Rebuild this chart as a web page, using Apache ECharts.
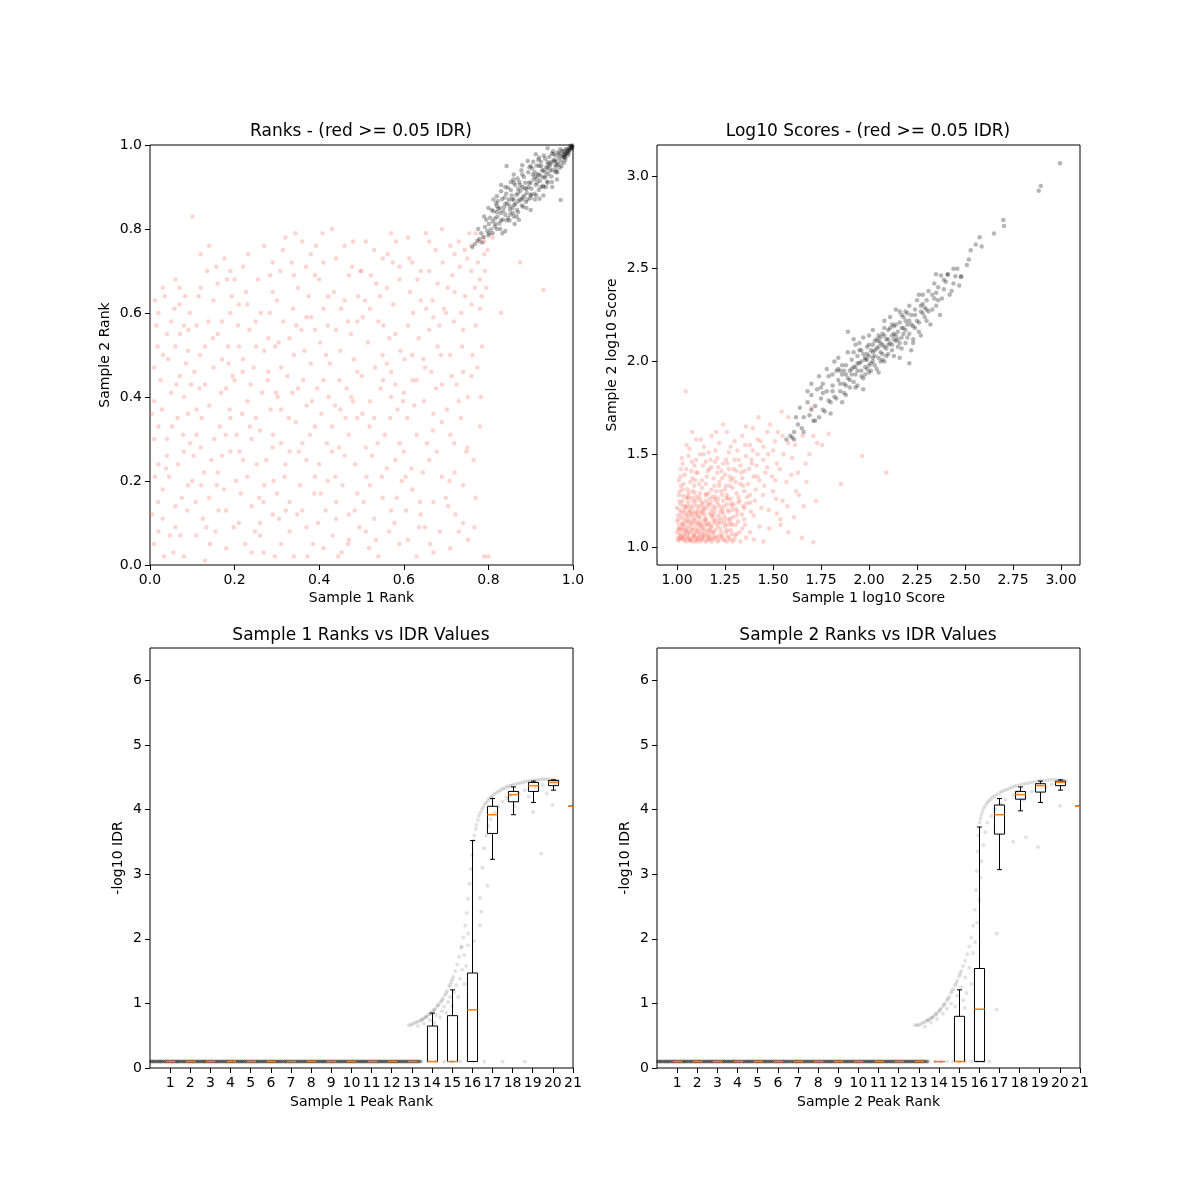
<!DOCTYPE html>
<html><head><meta charset="utf-8">
<script src="https://cdn.jsdelivr.net/npm/echarts@6/dist/echarts.min.js"></script>
<style>html,body{margin:0;padding:0;background:#fff}#c{width:1200px;height:1200px}</style>
</head><body><div id="c"></div>
<script>
// ---------- DATA ----------
const titles = ['Ranks - (red >= 0.05 IDR)', 'Log10 Scores - (red >= 0.05 IDR)', 'Sample 1 Ranks vs IDR Values', 'Sample 2 Ranks vs IDR Values'];
const xNames = ['Sample 1 Rank', 'Sample 1 log10 Score', 'Sample 1 Peak Rank', 'Sample 2 Peak Rank'];
const yNames = ['Sample 2 Rank', 'Sample 2 log10 Score', '-log10 IDR', '-log10 IDR'];

const rankTicks = [0.0, 0.2, 0.4, 0.6, 0.8, 1.0];
const scoreXTicks = [1.00, 1.25, 1.50, 1.75, 2.00, 2.25, 2.50, 2.75, 3.00];
const scoreYTicks = [1.0, 1.5, 2.0, 2.5, 3.0];
const peakTicks = [1, 2, 3, 4, 5, 6, 7, 8, 9, 10, 11, 12, 13, 14, 15, 16, 17, 18, 19, 20, 21];
const idrTicks = [0, 1, 2, 3, 4, 5, 6];

// Ranks: IDR >= 0.05 (red)
const rankRed = [
[0.01,0.05],[0.03,0.18],[0.06,0.09],[0.08,0.27],[0.02,0.33],[0.05,0.41],[0.09,0.36],[0.01,0.47],[0.04,0.55],[0.07,0.62],[0.03,0.66],[0.09,0.51],[0.02,0.24],[0.06,0.14],[0.08,0.02],[0.04,0.30],[0.01,0.39],[0.07,0.45],[0.05,0.58],[0.09,0.19],[0.03,0.11],[0.06,0.68],[0.02,0.60],[0.08,0.57],
[0.11,0.07],[0.14,0.16],[0.18,0.04],[0.12,0.28],[0.16,0.22],[0.19,0.35],[0.13,0.43],[0.17,0.49],[0.11,0.57],[0.15,0.63],[0.19,0.70],[0.12,0.74],[0.10,0.83],[0.18,0.13],[0.14,0.38],[0.16,0.55],[0.19,0.60],[0.11,0.31],[0.17,0.26],[0.13,0.01],[0.15,0.47],[0.18,0.42],[0.12,0.66],[0.10,0.20],
[0.21,0.10],[0.24,0.03],[0.27,0.19],[0.22,0.25],[0.26,0.32],[0.29,0.28],[0.23,0.39],[0.28,0.46],[0.21,0.52],[0.25,0.58],[0.29,0.65],[0.22,0.71],[0.27,0.76],[0.24,0.14],[0.20,0.44],[0.26,0.07],[0.28,0.54],[0.23,0.62],[0.25,0.35],[0.20,0.68],[0.29,0.12],[0.22,0.49],
[0.31,0.05],[0.34,0.02],[0.33,0.15],[0.37,0.09],[0.32,0.24],[0.36,0.29],[0.39,0.21],[0.31,0.37],[0.35,0.42],[0.38,0.48],[0.33,0.54],[0.37,0.59],[0.30,0.63],[0.34,0.69],[0.38,0.74],[0.32,0.78],[0.36,0.13],[0.39,0.33],[0.31,0.47],[0.35,0.66],[0.37,0.38],[0.33,0.27],[0.39,0.56],[0.30,0.17],
[0.41,0.04],[0.44,0.11],[0.47,0.06],[0.42,0.20],[0.46,0.26],[0.49,0.17],[0.43,0.33],[0.48,0.39],[0.41,0.44],[0.45,0.51],[0.49,0.46],[0.42,0.57],[0.46,0.63],[0.40,0.68],[0.44,0.73],[0.48,0.77],[0.43,0.80],[0.47,0.31],[0.40,0.24],[0.45,0.37],[0.49,0.58],[0.41,0.61],[0.47,0.69],[0.44,0.15],
[0.51,0.08],[0.54,0.02],[0.57,0.13],[0.52,0.19],[0.56,0.23],[0.59,0.29],[0.53,0.35],[0.57,0.40],[0.50,0.45],[0.55,0.50],[0.58,0.55],[0.52,0.61],[0.56,0.66],[0.59,0.71],[0.53,0.75],[0.57,0.79],[0.51,0.28],[0.55,0.16],[0.58,0.43],[0.54,0.58],[0.50,0.70],[0.59,0.05],[0.52,0.39],[0.56,0.48],
[0.61,0.06],[0.64,0.12],[0.67,0.03],[0.62,0.18],[0.66,0.25],[0.69,0.21],[0.63,0.31],[0.67,0.36],[0.60,0.41],[0.65,0.47],[0.68,0.52],[0.61,0.57],[0.64,0.63],[0.68,0.67],[0.62,0.72],[0.66,0.77],[0.69,0.80],[0.63,0.44],[0.60,0.27],[0.67,0.59],[0.65,0.09],[0.69,0.34],[0.62,0.50],[0.66,0.70],
[0.71,0.04],[0.74,0.10],[0.77,0.16],[0.72,0.22],[0.75,0.28],[0.78,0.33],[0.73,0.39],[0.76,0.45],[0.71,0.50],[0.74,0.56],[0.78,0.61],[0.72,0.65],[0.76,0.70],[0.79,0.74],[0.73,0.77],[0.77,0.79],[0.70,0.60],[0.75,0.73],[0.79,0.02],[0.71,0.31],[0.74,0.46],[0.78,0.68],[0.72,0.74],[0.76,0.76],
[0.83,0.60],[0.875,0.72],[0.93,0.655],[0.80,0.02],[0.81,0.78],[0.79,0.77],
[0.005,0.12],[0.025,0.44],[0.045,0.21],[0.065,0.35],[0.085,0.48],[0.015,0.57],[0.035,0.64],[0.055,0.03],[0.075,0.16],[0.095,0.29],[0.02,0.08],[0.04,0.26],[0.06,0.52],[0.08,0.40],[0.01,0.30],[0.07,0.66],
[0.105,0.46],[0.125,0.11],[0.145,0.25],[0.165,0.33],[0.185,0.52],[0.115,0.64],[0.135,0.70],[0.155,0.08],[0.175,0.18],[0.195,0.45],[0.11,0.37],[0.17,0.58],[0.13,0.52],[0.19,0.27],[0.14,0.76],[0.16,0.67],
[0.205,0.31],[0.225,0.05],[0.245,0.47],[0.265,0.41],[0.285,0.37],[0.215,0.17],[0.235,0.56],[0.255,0.68],[0.275,0.25],[0.295,0.02],[0.21,0.62],[0.27,0.51],[0.23,0.21],[0.29,0.72],[0.26,0.10],[0.24,0.30],
[0.305,0.11],[0.325,0.45],[0.345,0.34],[0.365,0.51],[0.385,0.05],[0.315,0.58],[0.335,0.72],[0.355,0.19],[0.375,0.64],[0.395,0.42],[0.31,0.29],[0.37,0.25],[0.33,0.08],[0.39,0.69],[0.34,0.50],[0.36,0.77],
[0.405,0.36],[0.425,0.48],[0.445,0.02],[0.465,0.42],[0.485,0.24],[0.415,0.13],[0.435,0.65],[0.455,0.19],[0.475,0.55],[0.495,0.09],[0.41,0.72],[0.47,0.12],[0.43,0.27],[0.49,0.35],[0.44,0.56],[0.46,0.76],
[0.505,0.15],[0.525,0.26],[0.545,0.42],[0.565,0.08],[0.585,0.37],[0.515,0.53],[0.535,0.67],[0.555,0.31],[0.575,0.62],[0.595,0.20],[0.51,0.77],[0.57,0.46],[0.53,0.11],[0.59,0.68],[0.55,0.73],[0.58,0.25],
[0.605,0.13],[0.625,0.38],[0.645,0.22],[0.665,0.46],[0.685,0.08],[0.615,0.65],[0.635,0.54],[0.655,0.29],[0.675,0.75],[0.695,0.61],[0.61,0.78],[0.67,0.15],[0.63,0.02],[0.69,0.43],[0.64,0.70],[0.66,0.56],
[0.705,0.14],[0.725,0.43],[0.745,0.64],[0.765,0.25],[0.785,0.52],[0.715,0.69],[0.735,0.35],[0.755,0.79],[0.775,0.72],[0.795,0.66],[0.71,0.76],[0.77,0.57],[0.73,0.08],[0.79,0.78],[0.74,0.19],[0.76,0.62],
[0.012,0.21],[0.028,0.37],[0.043,0.49],[0.058,0.61],[0.072,0.07],[0.088,0.13],[0.097,0.43],[0.018,0.52],[0.052,0.33],[0.083,0.64],[0.033,0.02],[0.066,0.24],[0.091,0.56],
[0.108,0.15],[0.122,0.35],[0.138,0.58],[0.152,0.30],[0.168,0.41],[0.182,0.68],[0.198,0.09],[0.118,0.50],[0.142,0.05],[0.176,0.73],[0.158,0.19],[0.128,0.22],[0.188,0.37],
[0.208,0.57],[0.218,0.36],[0.232,0.74],[0.248,0.08],[0.262,0.60],[0.278,0.44],[0.292,0.20],[0.212,0.27],[0.238,0.43],[0.268,0.15],[0.284,0.69],[0.296,0.52],[0.252,0.24],
[0.302,0.40],[0.318,0.21],[0.338,0.61],[0.348,0.12],[0.362,0.44],[0.378,0.31],[0.392,0.76],[0.308,0.70],[0.328,0.35],[0.358,0.56],[0.372,0.02],[0.388,0.17],[0.344,0.79],
[0.402,0.53],[0.418,0.29],[0.432,0.07],[0.448,0.44],[0.462,0.35],[0.478,0.71],[0.492,0.64],[0.408,0.79],[0.438,0.21],[0.468,0.05],[0.482,0.49],[0.452,0.61],[0.422,0.40],
[0.502,0.36],[0.518,0.04],[0.532,0.47],[0.548,0.21],[0.562,0.74],[0.578,0.10],[0.592,0.51],[0.508,0.63],[0.538,0.29],[0.568,0.35],[0.582,0.77],[0.552,0.57],[0.522,0.69],
[0.602,0.49],[0.618,0.23],[0.632,0.68],[0.648,0.39],[0.662,0.05],[0.678,0.27],[0.692,0.72],[0.608,0.35],[0.638,0.15],[0.668,0.63],[0.688,0.50],[0.652,0.79],[0.622,0.60],
[0.702,0.37],[0.718,0.58],[0.732,0.71],[0.748,0.27],[0.762,0.50],[0.778,0.77],[0.792,0.70],[0.708,0.20],[0.738,0.52],[0.768,0.66],[0.782,0.40],[0.752,0.06],[0.722,0.12],
[0.004,0.36],[0.019,0.15],[0.031,0.50],[0.047,0.07],[0.062,0.43],[0.078,0.31],[0.094,0.60],[0.038,0.23],[0.071,0.55],[0.012,0.63],
[0.103,0.26],[0.117,0.42],[0.133,0.09],[0.149,0.54],[0.162,0.13],[0.179,0.31],[0.193,0.64],[0.121,0.19],[0.157,0.71],[0.186,0.48],
[0.203,0.20],[0.219,0.46],[0.236,0.33],[0.251,0.52],[0.269,0.03],[0.283,0.60],[0.298,0.41],[0.227,0.65],[0.258,0.16],[0.291,0.31],
[0.304,0.53],[0.321,0.13],[0.337,0.41],[0.352,0.27],[0.369,0.71],[0.383,0.39],[0.397,0.10],[0.314,0.75],[0.346,0.57],[0.381,0.59],
[0.404,0.17],[0.421,0.64],[0.437,0.38],[0.453,0.03],[0.468,0.58],[0.484,0.13],[0.497,0.70],[0.416,0.50],[0.447,0.28],[0.476,0.40],
[0.503,0.59],[0.519,0.33],[0.534,0.06],[0.551,0.44],[0.566,0.54],[0.583,0.16],[0.598,0.39],[0.512,0.21],[0.543,0.64],[0.574,0.72],
[0.604,0.21],[0.621,0.44],[0.636,0.09],[0.653,0.61],[0.669,0.32],[0.684,0.57],[0.699,0.16],[0.613,0.73],[0.646,0.49],[0.676,0.42],
[0.704,0.66],[0.719,0.29],[0.736,0.60],[0.751,0.40],[0.767,0.09],[0.784,0.64],[0.798,0.75],[0.713,0.45],[0.744,0.75],[0.774,0.47]
];
// Ranks: IDR < 0.05 (grey)
const rankGray = [
[0.762,0.757],[0.768,0.764],[0.774,0.772],[0.779,0.776],[0.783,0.79],[0.788,0.781],[0.792,0.805],[0.797,0.795],[0.801,0.812],[0.804,0.827],[0.806,0.799],[0.81,0.818],[0.812,0.842],[0.815,0.806],[0.818,0.861],[0.821,0.829],[0.823,0.848],[0.826,0.813],[0.829,0.838],[0.832,0.871],[0.834,0.822],[0.837,0.852],[0.84,0.834],[0.842,0.884],[0.845,0.861],[0.847,0.826],[0.851,0.846],[0.853,0.893],[0.856,0.87],[0.858,0.838],[0.861,0.857],[0.863,0.905],[0.866,0.881],[0.868,0.846],[0.871,0.866],[0.873,0.912],[0.876,0.891],[0.879,0.856],[0.881,0.875],[0.884,0.924],[0.886,0.897],[0.889,0.864],[0.891,0.886],[0.894,0.935],[0.896,0.91],[0.899,0.873],[0.902,0.896],[0.904,0.944],[0.907,0.918],[0.909,0.884],[0.912,0.905],[0.914,0.951],[0.917,0.929],[0.919,0.893],[0.922,0.914],[0.924,0.96],[0.927,0.939],[0.929,0.903],[0.932,0.922],[0.934,0.968],[0.937,0.947],[0.939,0.913],[0.942,0.931],[0.944,0.972],[0.947,0.956],[0.949,0.925],[0.952,0.94],[0.954,0.978],[0.957,0.962],[0.959,0.935],[0.962,0.952],[0.964,0.983],[0.967,0.968],[0.969,0.946],[0.972,0.961],[0.974,0.986],[0.977,0.975],[0.979,0.958],[0.981,0.971],[0.983,0.99],[0.985,0.982],[0.987,0.975],[0.989,0.986],[0.991,0.993],[0.993,0.989],[0.995,0.995],[0.997,0.996],[0.999,0.999],[0.996,0.993],[0.992,0.988],[0.988,0.984],[0.984,0.979],[0.98,0.976],[0.976,0.971],
[0.843,0.95],[0.971,0.869],[0.79,0.83],[0.86,0.93],[0.83,0.905],[0.90,0.845],[0.93,0.88],[0.872,0.822],[0.82,0.878],[0.951,0.9],[0.88,0.952],[0.912,0.978],[0.84,0.795],[0.862,0.812],[0.94,0.992],[0.962,0.918],[0.893,0.962],[0.921,0.872],[0.812,0.87],[0.853,0.912],[0.80,0.785],[0.815,0.825],[0.828,0.80],[0.835,0.842],[0.848,0.87],[0.857,0.85],[0.87,0.895],[0.885,0.88],[0.895,0.90],[0.905,0.93],[0.915,0.92],[0.925,0.95],[0.935,0.935],[0.945,0.95],[0.955,0.965],[0.965,0.955],
[0.776,0.80],[0.785,0.768],[0.795,0.822],[0.802,0.79],[0.808,0.845],[0.817,0.812],[0.822,0.866],[0.827,0.85],[0.833,0.79],[0.838,0.875],[0.843,0.82],[0.846,0.898],[0.852,0.835],[0.855,0.88],[0.859,0.918],[0.864,0.86],[0.867,0.83],[0.869,0.92],[0.874,0.87],[0.878,0.94],[0.882,0.853],[0.887,0.91],[0.892,0.87],[0.897,0.947],[0.901,0.882],[0.906,0.96],[0.91,0.925],[0.913,0.88],[0.918,0.965],[0.923,0.9],[0.926,0.925],[0.931,0.975],[0.936,0.9],[0.941,0.955],[0.946,0.94],[0.95,0.912],[0.953,0.985],[0.958,0.95],[0.963,0.935],[0.968,0.98],[0.973,0.95],[0.978,0.985],[0.982,0.965],[0.986,0.99],[0.99,0.98],[0.994,0.998],[0.998,0.992],[0.82,0.84],[0.84,0.86],[0.86,0.87],[0.88,0.90],[0.90,0.91],[0.92,0.93],[0.94,0.945],[0.96,0.96],[0.98,0.98],[0.81,0.79],[0.83,0.82],[0.85,0.855],[0.87,0.885],[0.89,0.895],[0.91,0.935],[0.93,0.94],[0.95,0.96],[0.97,0.975],
[0.80,0.85],[0.82,0.80],[0.83,0.89],[0.85,0.82],[0.86,0.91],[0.87,0.84],[0.88,0.93],[0.89,0.85],[0.90,0.95],[0.91,0.87],[0.92,0.97],[0.93,0.90],[0.94,0.91],[0.95,0.98],[0.96,0.94],[0.97,0.99],[0.84,0.90],[0.86,0.83],[0.88,0.87],[0.90,0.88],[0.92,0.95],[0.94,0.96],[0.96,0.975],[0.98,0.97],[0.82,0.855],[0.875,0.905],[0.915,0.91],[0.935,0.925]
];

// Log10 scores: IDR >= 0.05 (red)
const scoreRed = [
[1.01,1.04],[1.03,1.05],[1.05,1.03],[1.07,1.04],[1.09,1.06],[1.11,1.04],[1.13,1.05],[1.15,1.03],[1.17,1.04],[1.19,1.05],[1.21,1.03],[1.24,1.04],[1.27,1.05],[1.30,1.04],[1.33,1.03],[1.02,1.06],[1.06,1.05],[1.10,1.03],[1.14,1.06],[1.18,1.03],[1.22,1.06],[1.26,1.03],[1.36,1.05],[1.40,1.04],[1.45,1.03],[1.12,1.03],[1.08,1.03],[1.04,1.04],[1.16,1.05],[1.29,1.03],
[1.00,1.08],[1.02,1.10],[1.04,1.07],[1.06,1.11],[1.08,1.09],[1.10,1.12],[1.12,1.08],[1.14,1.10],[1.16,1.07],[1.18,1.11],[1.20,1.09],[1.23,1.08],[1.25,1.11],[1.28,1.09],[1.31,1.07],[1.34,1.10],[1.01,1.12],[1.05,1.09],[1.09,1.07],[1.13,1.12],[1.17,1.09],[1.21,1.11],[1.03,1.11],[1.07,1.08],[1.11,1.10],[1.15,1.12],[1.19,1.08],[1.38,1.08],[1.43,1.11],[1.27,1.12],
[1.01,1.15],[1.03,1.13],[1.05,1.17],[1.07,1.14],[1.09,1.16],[1.11,1.13],[1.13,1.18],[1.15,1.15],[1.17,1.13],[1.19,1.17],[1.22,1.14],[1.25,1.16],[1.28,1.13],[1.31,1.17],[1.35,1.15],[1.02,1.18],[1.06,1.16],[1.10,1.18],[1.14,1.14],[1.18,1.16],[1.24,1.18],[1.00,1.14],[1.04,1.15],[1.08,1.13],[1.12,1.16],[1.20,1.15],[1.40,1.17],[1.29,1.16],
[1.00,1.21],[1.02,1.23],[1.04,1.20],[1.06,1.24],[1.08,1.21],[1.10,1.25],[1.12,1.22],[1.14,1.19],[1.16,1.23],[1.18,1.20],[1.21,1.24],[1.23,1.21],[1.26,1.23],[1.29,1.20],[1.32,1.24],[1.03,1.25],[1.07,1.19],[1.11,1.20],[1.15,1.25],[1.19,1.22],[1.27,1.19],[1.35,1.21],[1.38,1.24],[1.05,1.22],[1.09,1.23],[1.13,1.24],[1.24,1.25],
[1.01,1.28],[1.03,1.31],[1.05,1.27],[1.08,1.30],[1.10,1.27],[1.13,1.32],[1.15,1.28],[1.18,1.31],[1.20,1.27],[1.23,1.30],[1.26,1.28],[1.29,1.32],[1.32,1.27],[1.35,1.30],[1.02,1.33],[1.06,1.29],[1.12,1.29],[1.17,1.26],[1.22,1.33],[1.28,1.26],[1.38,1.28],[1.09,1.33],[1.25,1.31],[1.31,1.29],
[1.01,1.36],[1.04,1.39],[1.07,1.35],[1.10,1.40],[1.13,1.36],[1.16,1.41],[1.19,1.37],[1.22,1.35],[1.25,1.39],[1.28,1.36],[1.31,1.41],[1.34,1.37],[1.37,1.34],[1.40,1.38],[1.43,1.36],[1.02,1.42],[1.15,1.34],[1.27,1.42],[1.21,1.40],[1.08,1.37],[1.46,1.40],[1.33,1.34],
[1.03,1.45],[1.06,1.49],[1.09,1.44],[1.12,1.50],[1.15,1.46],[1.18,1.43],[1.21,1.48],[1.24,1.45],[1.27,1.51],[1.30,1.47],[1.33,1.44],[1.36,1.49],[1.39,1.45],[1.42,1.50],[1.45,1.47],[1.50,1.52],[1.20,1.52],[1.10,1.47],[1.52,1.45],[1.47,1.43],
[1.05,1.55],[1.10,1.58],[1.14,1.54],[1.18,1.60],[1.22,1.56],[1.26,1.62],[1.30,1.57],[1.34,1.60],[1.38,1.55],[1.42,1.58],[1.47,1.62],[1.51,1.57],[1.08,1.62],[1.28,1.54],[1.45,1.54],[1.55,1.60],[1.36,1.65],[1.24,1.66],[1.58,1.56],
[1.48,1.10],[1.52,1.18],[1.55,1.25],[1.58,1.08],[1.62,1.30],[1.66,1.22],[1.44,1.21],[1.50,1.30],[1.57,1.35],[1.63,1.40],[1.67,1.45],[1.69,1.50],[1.60,1.48],[1.41,1.31],[1.54,1.12],[1.65,1.05],[1.61,1.16],
[1.045,1.84],[1.73,1.56],[1.70,1.75],[1.58,1.70],[1.854,1.34],[1.965,1.49],[2.09,1.40],[1.71,1.025],[1.724,1.248],[1.79,1.61],[1.71,1.60],[1.755,1.55],
[1.02,1.05],[1.06,1.07],[1.04,1.12],[1.09,1.10],[1.13,1.07],[1.16,1.09],[1.03,1.19],[1.07,1.22],[1.11,1.16],[1.14,1.21],[1.05,1.14],[1.01,1.10],[1.08,1.18],[1.12,1.12],[1.17,1.18],[1.20,1.21],[1.23,1.13],[1.26,1.09],[1.06,1.27],[1.10,1.05],
[1.005,1.05],[1.015,1.07],[1.025,1.09],[1.035,1.06],[1.045,1.10],[1.055,1.08],[1.065,1.04],[1.075,1.12],[1.085,1.06],[1.095,1.14],[1.105,1.08],[1.115,1.06],[1.125,1.11],[1.135,1.04],[1.145,1.08],[1.155,1.13],[1.165,1.06],[1.175,1.11],[1.185,1.07],[1.195,1.13],[1.205,1.05],[1.215,1.17],[1.225,1.10],[1.235,1.06],[1.245,1.14],[1.255,1.08],[1.265,1.20],[1.275,1.15],[1.285,1.07],[1.295,1.23],[1.305,1.12],[1.315,1.19],[1.325,1.08],[1.345,1.22],[1.355,1.12],
[1.005,1.17],[1.015,1.20],[1.025,1.16],[1.035,1.22],[1.045,1.18],[1.055,1.26],[1.065,1.20],[1.075,1.17],[1.085,1.25],[1.095,1.19],[1.105,1.22],[1.115,1.27],[1.125,1.19],[1.135,1.23],[1.145,1.17],[1.155,1.21],[1.165,1.29],[1.175,1.24],[1.185,1.27],[1.195,1.19],[1.205,1.30],[1.215,1.26],[1.225,1.19],[1.235,1.28],[1.245,1.22],[1.255,1.33],[1.265,1.26],[1.275,1.38],[1.285,1.22],[1.305,1.35],[1.325,1.25],[1.345,1.33],[1.365,1.27],[1.385,1.19],[1.405,1.25],
[1.015,1.30],[1.035,1.34],[1.055,1.31],[1.075,1.41],[1.095,1.36],[1.115,1.34],[1.135,1.44],[1.155,1.38],[1.175,1.47],[1.195,1.33],[1.215,1.43],[1.235,1.37],[1.255,1.47],[1.275,1.33],[1.295,1.42],[1.315,1.52],[1.335,1.40],[1.355,1.55],[1.375,1.42],[1.395,1.52],[1.415,1.44],[1.435,1.57],[1.455,1.33],[1.475,1.50],[1.495,1.38],[1.515,1.26],[1.535,1.42],[1.555,1.50],[1.575,1.22],[1.595,1.39],[1.615,1.55],[1.635,1.28],[1.655,1.60],[1.675,1.35],[1.025,1.48],[1.065,1.53],[1.125,1.58],[1.165,1.51],[1.205,1.62],[1.395,1.64],[1.485,1.66],[1.525,1.62],[1.425,1.70],[1.545,1.73],
[1.008,1.035],[1.022,1.045],[1.038,1.038],[1.052,1.055],[1.068,1.035],[1.082,1.048],[1.098,1.036],[1.112,1.052],[1.128,1.04],[1.142,1.058],[1.158,1.037],[1.172,1.05],[1.188,1.04],[1.202,1.057],[1.218,1.038],[1.232,1.052],[1.248,1.036],[1.262,1.058],[1.278,1.042],[1.302,1.06],
[1.008,1.095],[1.028,1.125],[1.042,1.085],[1.058,1.135],[1.072,1.098],[1.088,1.145],[1.102,1.088],[1.118,1.138],[1.132,1.096],[1.148,1.148],[1.162,1.118],[1.178,1.088],[1.192,1.142],[1.212,1.128],[1.228,1.155],[1.252,1.122],[1.268,1.148],[1.288,1.118],[1.318,1.138],
[1.012,1.245],[1.032,1.275],[1.048,1.215],[1.062,1.185],[1.078,1.265],[1.092,1.292],[1.108,1.175],[1.122,1.255],[1.138,1.205],[1.152,1.285],[1.168,1.225],[1.182,1.175],[1.198,1.255],[1.218,1.225],[1.238,1.195],[1.258,1.265],[1.282,1.235],[1.308,1.205],[1.338,1.175],[1.362,1.235],
[1.018,1.38],[1.048,1.42],[1.078,1.46],[1.108,1.40],[1.138,1.50],[1.168,1.42],[1.198,1.46],[1.232,1.41],[1.262,1.45],[1.292,1.37],[1.322,1.47],[1.352,1.41],[1.388,1.47],[1.418,1.38],[1.448,1.28],[1.478,1.20],[1.512,1.36],[1.538,1.15]
];
// Log10 scores: IDR < 0.05 (grey)
const scoreGray = [
[1.57,1.58],[1.59,1.60],[1.61,1.62],[1.63,1.66],[1.66,1.70],[1.64,1.75],[1.68,1.78],[1.70,1.82],[1.72,1.76],[1.73,1.85],[1.75,1.80],[1.76,1.88],[1.77,1.73],[1.78,1.84],[1.79,1.92],[1.80,1.78],[1.81,1.87],[1.82,1.81],[1.83,1.95],[1.84,1.90],[1.85,1.84],[1.86,1.93],[1.87,1.88],[1.88,1.98],[1.88,1.82],[1.89,1.91],[1.90,1.86],[1.90,1.95],[1.91,2.01],[1.92,1.89],[1.92,1.97],[1.93,1.93],[1.94,2.03],[1.94,1.87],[1.95,1.99],[1.96,1.95],[1.96,2.06],[1.97,1.91],[1.98,2.01],[1.98,1.97],[1.99,2.08],[2.00,1.94],[2.00,2.03],[2.01,1.99],[2.02,2.09],[2.02,2.05],[2.03,1.98],[2.04,2.07],[2.04,2.12],[2.05,2.02],[2.06,2.10],[2.06,2.05],[2.07,2.15],[2.08,2.00],[2.08,2.08],[2.09,2.12],[2.10,2.04],[2.10,2.17],[2.11,2.10],[2.12,2.14],[2.12,2.06],[2.13,2.19],[2.14,2.11],[2.15,2.16],[2.15,2.08],[2.16,2.21],[2.17,2.13],[2.18,2.18],[2.18,2.24],[2.19,2.10],[2.20,2.20],[2.21,2.15],[2.22,2.25],[2.23,2.19],[2.24,2.28],[2.25,2.22],[2.26,2.16],[2.27,2.27],[2.28,2.31],[2.29,2.24],[2.30,2.33],[2.31,2.27],[2.33,2.36],[2.35,2.30],[2.36,2.40],[2.38,2.34],[2.40,2.43],[2.41,2.47],[2.43,2.38],[2.45,2.46],[2.48,2.46],[2.51,2.52],[2.52,2.55],[2.53,2.60],[2.556,2.63],[2.587,2.62],[2.576,2.67],[2.651,2.69],[2.70,2.763],[2.703,2.73],[2.884,2.921],[2.895,2.946],[2.995,3.068],
[1.74,1.70],[1.86,1.78],[1.97,1.85],[2.05,1.94],[2.16,2.02],[2.22,2.06],[1.82,2.00],[1.95,2.10],[2.08,2.22],[1.70,1.88],[2.00,2.14],[2.14,2.28],[2.26,2.36],[2.32,2.20],[1.92,2.05],[1.88,1.93],[2.03,2.11],[2.11,2.18],[1.98,2.02],[2.07,2.04],[2.01,2.06],[1.96,2.00],[2.09,2.07],[2.13,2.15],[1.93,1.97],[2.05,2.08],[2.21,1.99],[1.89,2.16],
[1.60,1.59],[1.61,1.58],[1.65,1.64],[1.69,1.71],[1.71,1.68],[1.84,1.96],[1.99,2.04],[2.02,2.00],[2.06,2.13],[2.17,2.25],[2.19,2.17],[2.23,2.12],[2.28,2.26],[2.34,2.34],[2.39,2.39],[2.44,2.42],[2.46,2.50],[2.349,2.47],[2.375,2.463],[2.41,2.468],[2.479,2.456],
[1.62,1.70],[1.66,1.62],[1.68,1.84],[1.72,1.68],[1.74,1.92],[1.76,1.74],[1.78,1.96],[1.79,1.79],[1.81,1.93],[1.83,1.80],[1.84,2.02],[1.85,1.88],[1.86,1.98],[1.87,1.83],[1.89,2.05],[1.90,1.90],[1.91,1.96],[1.92,2.12],[1.93,1.86],[1.94,1.99],[1.95,2.06],[1.96,1.92],[1.97,2.13],[1.98,1.93],[1.99,2.01],[2.00,2.09],[2.01,1.95],[2.02,2.17],[2.03,2.03],[2.04,1.96],[2.05,2.14],[2.06,2.00],[2.07,2.09],[2.08,2.18],[2.09,2.03],[2.10,2.12],[2.11,2.24],[2.12,2.09],[2.13,2.03],[2.14,2.20],[2.15,2.12],[2.16,2.27],[2.17,2.07],[2.18,2.15],[2.19,2.22],[2.20,2.13],[2.21,2.30],[2.22,2.20],[2.23,2.10],[2.24,2.25],[2.25,2.33],[2.26,2.21],[2.27,2.14],[2.28,2.36],[2.29,2.29],[2.30,2.22],[2.31,2.38],[2.33,2.28],[2.34,2.42],[2.36,2.33],[2.37,2.25],[2.39,2.44],[2.42,2.36],[2.44,2.50],[2.47,2.41],[1.80,1.72],[1.75,1.86],[1.70,1.74],[2.35,2.37],[2.20,2.26],
[1.76,1.83],[1.81,1.84],[1.85,1.95],[1.88,1.87],[1.91,1.93],[1.94,1.95],[1.97,2.04],[1.99,1.96],[2.03,2.06],[2.05,2.11],[2.07,2.01],[2.10,2.09],[2.12,2.20],[2.14,2.14],[2.17,2.18],[2.19,2.27],[2.21,2.22],[2.24,2.18],[2.27,2.30],[2.30,2.28],[1.93,2.09],[2.00,1.98],[2.08,2.14],[2.16,2.10],[1.87,1.95],[2.02,2.02],[2.13,2.12]
];

// -log10 IDR vs peak rank: dense floor of peaks at the minimum value
const floorX = [0.05,0.14,0.22,0.32,0.41,0.50,0.58,0.68,0.77,0.85,0.93,1.03,1.12,1.21,1.30,1.38,1.46,1.56,1.65,1.74,1.83,1.92,2.01,2.10,2.18,2.28,2.37,2.46,2.55,2.64,2.72,2.81,2.90,2.99,3.08,3.17,3.27,3.35,3.44,3.53,3.62,3.71,3.80,3.88,3.97,4.06,4.15,4.25,4.34,4.43,4.52,4.60,4.69,4.78,4.87,4.96,5.05,5.14,5.24,5.32,5.41,5.50,5.59,5.68,5.77,5.86,5.95,6.04,6.13,6.22,6.30,6.39,6.48,6.57,6.67,6.76,6.85,6.93,7.02,7.11,7.20,7.29,7.38,7.47,7.56,7.65,7.74,7.83,7.92,8.01,8.10,8.19,8.28,8.37,8.46,8.55,8.63,8.72,8.81,8.90,9.00,9.08,9.17,9.26,9.35,9.44,9.53,9.62,9.71,9.80,9.89,9.98,10.07,10.16,10.25,10.34,10.43,10.52,10.60,10.69,10.78,10.87,10.96,11.05,11.14,11.23,11.32,11.41,11.50,11.59,11.68,11.77,11.86,11.95,12.04,12.13,12.22,12.31,12.40,12.49,12.58,12.67,12.76,12.85,12.94,13.03,13.12,13.21,13.30,13.40];
const floorY = 0.1;

const idr1Points = [
[12.85,0.66],[12.95,0.67],[13.05,0.68],[13.15,0.70],[13.25,0.71],[13.35,0.72],[13.45,0.74],[13.55,0.76],[13.65,0.78],[13.75,0.80],[13.85,0.83],[13.95,0.85],[14.05,0.88],[14.15,0.91],[14.25,0.95],[14.35,0.99],[14.45,1.03],[14.55,1.08],[14.65,1.13],[14.75,1.19],[14.85,1.26],[14.95,1.33],[15.05,1.41],[15.15,1.50],[15.25,1.60],[15.35,1.72],[15.45,1.86],[15.55,2.02],[15.65,2.20],[15.72,2.40],[15.80,2.62],[15.87,2.85],[15.93,3.08],[16.00,3.30],[16.08,3.52],[16.17,3.70],[16.28,3.84],[16.40,3.95],[16.55,4.04],[16.70,4.11],[16.85,4.17],[17.00,4.21],[17.20,4.26],[17.40,4.30],[17.60,4.33],[17.80,4.36],[18.00,4.38],[18.25,4.40],[18.50,4.42],[18.75,4.44],[19.00,4.45],[19.25,4.46],[19.50,4.47],[19.75,4.47],[20.00,4.46],[20.25,4.45],
[13.3,0.65],[13.6,0.69],[13.9,0.74],[14.1,0.70],[14.2,0.82],[14.4,0.78],[14.5,0.88],[14.6,0.95],[14.7,0.85],[14.8,1.02],[14.9,1.10],[15.0,0.96],[15.1,1.18],[15.2,1.28],[15.3,1.10],[15.4,1.38],[15.5,1.52],[15.6,1.30],[15.6,1.75],[15.7,1.58],[15.8,1.90],[15.47,1.88],[15.8,2.08],[16.08,1.96],[16.38,2.21],[16.44,2.42],[16.38,2.63],[16.76,2.82],[16.5,3.10],[16.6,3.40],[16.7,3.60],[16.8,3.75],[16.9,3.85],[17.1,3.95],[17.3,4.05],[17.5,4.12],[17.7,4.18],[17.9,4.22],[18.1,4.05],[18.3,4.25],[18.6,4.30],[18.8,4.20],[19.02,3.96],[19.1,4.35],[19.42,3.32],[19.5,4.38],[19.7,4.25],[19.98,4.07],[20.1,4.40],
[16.1,3.6],[16.2,3.76],[16.33,3.9],[16.47,4.0],[16.62,4.08],[16.78,4.14],[16.93,4.19],[17.1,4.24],[17.3,4.28],[17.5,4.32],[17.7,4.35],[17.9,4.37],[18.12,4.39],[18.37,4.41],[18.62,4.43],[18.87,4.445],[19.12,4.455],[19.37,4.465],[19.62,4.47],[19.87,4.465],[20.12,4.455],[15.0,1.37],[14.9,1.29],[14.7,1.16],[14.5,1.05],[14.3,0.97],[14.1,0.9],[13.9,0.84],[13.7,0.79],[13.5,0.75],
[13.5,0.1],[13.8,0.1],[14.2,0.1],[14.6,0.1],[15.0,0.1],[15.4,0.1],[16.6,0.1],[17.5,0.1],[18.6,0.1]
];
const idr2Points = [
[12.8,0.66],[12.9,0.67],[13.0,0.66],[13.1,0.68],[13.2,0.70],[13.3,0.71],[13.4,0.73],[13.5,0.75],[13.6,0.77],[13.7,0.79],[13.8,0.82],[13.9,0.85],[14.0,0.88],[14.1,0.92],[14.2,0.96],[14.3,1.00],[14.4,1.05],[14.5,1.10],[14.6,1.16],[14.7,1.22],[14.8,1.28],[14.9,1.35],[15.0,1.42],[15.1,1.50],[15.2,1.58],[15.3,1.66],[15.4,1.76],[15.5,1.88],[15.6,2.02],[15.7,2.20],[15.78,2.45],[15.84,2.75],[15.88,3.05],[15.92,3.35],[15.96,3.60],[16.02,3.80],[16.10,3.92],[16.22,4.02],[16.38,4.10],[16.55,4.16],[16.75,4.21],[17.0,4.26],[17.25,4.30],[17.5,4.33],[17.75,4.36],[18.0,4.38],[18.3,4.40],[18.6,4.42],[18.9,4.44],[19.2,4.45],[19.5,4.46],[19.8,4.46],[20.1,4.45],[20.3,4.44],
[13.3,0.64],[13.6,0.70],[13.9,0.76],[14.2,0.84],[14.4,0.92],[14.6,1.00],[14.8,0.95],[14.9,1.12],[15.1,1.25],[15.2,1.05],[15.3,1.40],[15.5,1.55],[15.6,1.30],[15.7,1.78],[15.8,1.95],[15.9,2.25],[16.0,2.60],[16.05,2.95],[16.1,3.20],[16.2,3.45],[16.3,3.65],[16.4,3.80],[16.86,2.08],[16.6,3.90],[16.8,4.00],[17.1,4.08],[17.3,4.15],[17.7,4.22],[18.31,3.57],[17.68,3.50],[18.92,3.42],[20.0,4.06],[18.6,4.28],[19.3,4.35],[19.6,4.39],[18.2,4.15],[17.9,4.27],[15.29,0.93],[15.37,1.16],[16.86,0.9],
[16.06,3.86],[16.16,3.97],[16.3,4.06],[16.46,4.13],[16.65,4.19],[16.87,4.23],[17.12,4.28],[17.37,4.31],[17.62,4.345],[17.87,4.37],[18.15,4.39],[18.45,4.41],[18.75,4.43],[19.05,4.445],[19.35,4.455],[19.65,4.46],[19.95,4.455],[20.2,4.445],[15.05,1.46],[14.85,1.31],[14.65,1.19],[14.45,1.07],[14.25,0.98],[14.05,0.9],[13.85,0.83],[13.65,0.78],[13.45,0.74],
[13.5,0.1],[13.8,0.1],[14.1,0.1],[14.4,0.1],[14.7,0.1],[15.0,0.1],[15.3,0.1],[15.6,0.1],[15.9,0.1],[16.2,0.1],[16.5,0.1]
];

// boxplots: [position, whiskerLow, Q1, median, Q3, whiskerHigh]
const box1 = [
[1,0.1,0.1,0.1,0.1,0.1],[2,0.1,0.1,0.1,0.1,0.1],[3,0.1,0.1,0.1,0.1,0.1],[4,0.1,0.1,0.1,0.1,0.1],[5,0.1,0.1,0.1,0.1,0.1],[6,0.1,0.1,0.1,0.1,0.1],[7,0.1,0.1,0.1,0.1,0.1],[8,0.1,0.1,0.1,0.1,0.1],[9,0.1,0.1,0.1,0.1,0.1],[10,0.1,0.1,0.1,0.1,0.1],[11,0.1,0.1,0.1,0.1,0.1],[12,0.1,0.1,0.1,0.1,0.1],[13,0.1,0.1,0.1,0.1,0.1],
[14,0.1,0.1,0.1,0.65,0.85],[15,0.1,0.1,0.1,0.81,1.21],[16,0.1,0.1,0.9,1.47,3.52],[17,3.23,3.63,3.92,4.05,4.17],[18,3.92,4.12,4.23,4.28,4.35],[19,4.11,4.28,4.37,4.42,4.44],[20,4.30,4.37,4.42,4.45,4.46],[21,4.05,4.05,4.05,4.05,4.05]
];
const box2 = [
[1,0.1,0.1,0.1,0.1,0.1],[2,0.1,0.1,0.1,0.1,0.1],[3,0.1,0.1,0.1,0.1,0.1],[4,0.1,0.1,0.1,0.1,0.1],[5,0.1,0.1,0.1,0.1,0.1],[6,0.1,0.1,0.1,0.1,0.1],[7,0.1,0.1,0.1,0.1,0.1],[8,0.1,0.1,0.1,0.1,0.1],[9,0.1,0.1,0.1,0.1,0.1],[10,0.1,0.1,0.1,0.1,0.1],[11,0.1,0.1,0.1,0.1,0.1],[12,0.1,0.1,0.1,0.1,0.1],[13,0.1,0.1,0.1,0.1,0.1],[14,0.1,0.1,0.1,0.1,0.1],
[15,0.1,0.1,0.1,0.8,1.21],[16,0.1,0.1,0.91,1.54,3.73],[17,3.07,3.62,3.92,4.07,4.17],[18,3.98,4.16,4.23,4.28,4.35],[19,4.11,4.27,4.37,4.40,4.44],[20,4.30,4.37,4.42,4.44,4.46],[21,4.05,4.05,4.05,4.05,4.05]
];

// ---------- CHART ----------
const FONT = 'DejaVu Sans';
const grids = [
  {left:150, top:145, width:423, height:420},
  {left:657, top:145, width:423, height:420},
  {left:150, top:648, width:423, height:420},
  {left:657, top:648, width:423, height:420}
].map(g => Object.assign({show:true, borderColor:'#000', borderWidth:1, backgroundColor:'transparent', containLabel:false}, g));

function axis(grid, min, max, ticks, dec, name, gap) {
  return {
    type:'value', gridIndex:grid, min:min, max:max, scale:true,
    name:name, nameLocation:'middle', nameGap:gap,
    nameTextStyle:{fontFamily:FONT, fontSize:14, color:'#000'},
    axisLine:{show:false, onZero:false},
    splitLine:{show:false},
    axisTick:{show:true, inside:false, length:5, lineStyle:{color:'#000', width:1}, customValues:ticks},
    axisLabel:{show:true, margin:8, fontFamily:FONT, fontSize:14, color:'#000', customValues:ticks,
      formatter: v => dec < 0 ? String(Math.round(v)) : Number(v).toFixed(dec)}
  };
}

const xAxes = [
  axis(0, 0, 1, rankTicks, 1, xNames[0], 26),
  axis(1, 0.896, 3.099, scoreXTicks, 2, xNames[1], 26),
  axis(2, 0, 21, peakTicks, -1, xNames[2], 27),
  axis(3, 0, 21, peakTicks, -1, xNames[3], 27)
];
const yAxes = [
  axis(0, 0, 1, rankTicks, 1, yNames[0], 38),
  axis(1, 0.903, 3.167, scoreYTicks, 1, yNames[1], 38),
  axis(2, 0, 6.5, idrTicks, -1, yNames[2], 25),
  axis(3, 0, 6.5, idrTicks, -1, yNames[3], 25)
];

const RED = 'rgba(250,128,114,0.42)';
const GREY = 'rgba(0,0,0,0.36)';
const LIGHT = 'rgba(0,0,0,0.14)';

function scatter(i, data, color, size) {
  return {type:'scatter', xAxisIndex:i, yAxisIndex:i, data:data, symbol:'circle', symbolSize:size||4,
    itemStyle:{color:color, borderWidth:0}, silent:true, animation:false, z:2};
}

function boxRender(params, api) {
  const x = api.value(0), lo = api.value(1), q1 = api.value(2), med = api.value(3), q3 = api.value(4), hi = api.value(5);
  const hw = api.size([0.25, 0])[0];
  const cw = api.size([0.125, 0])[0];
  const pLo = api.coord([x, lo]), pQ1 = api.coord([x, q1]), pMed = api.coord([x, med]), pQ3 = api.coord([x, q3]), pHi = api.coord([x, hi]);
  const cx = Math.round(pLo[0]) + 0.5;
  const k = {stroke:'#000', lineWidth:1, fill:null};
  return {type:'group', children:[
    {type:'line', shape:{x1:cx, y1:pLo[1], x2:cx, y2:pQ1[1]}, style:k},
    {type:'line', shape:{x1:cx, y1:pQ3[1], x2:cx, y2:pHi[1]}, style:k},
    {type:'line', shape:{x1:cx-cw, y1:pLo[1], x2:cx+cw, y2:pLo[1]}, style:k},
    {type:'line', shape:{x1:cx-cw, y1:pHi[1], x2:cx+cw, y2:pHi[1]}, style:k},
    {type:'rect', shape:{x:cx-hw, y:pQ3[1], width:2*hw, height:pQ1[1]-pQ3[1]}, style:{stroke:'#000', lineWidth:1, fill:'none'}},
    {type:'line', shape:{x1:cx-hw, y1:pMed[1], x2:cx+hw, y2:pMed[1]}, style:{stroke:'#ff7f0e', lineWidth:1.5}}
  ]};
}
function boxes(i, data) {
  return {type:'custom', xAxisIndex:i, yAxisIndex:i, data:data, renderItem:boxRender, clip:true,
    encode:{x:0, y:[1,2,3,4,5]}, silent:true, animation:false, z:5};
}
const floorData = floorX.map(x => [x, floorY]);

const titleCenters = [[361,123],[868,123],[361,627],[868,627]];
const option = {
  backgroundColor:'#fff',
  animation:false,
  title: titles.map((t, i) => ({text:t, left:titleCenters[i][0], top:titleCenters[i][1], textAlign:'center', padding:0,
    textStyle:{fontFamily:FONT, fontSize:17, fontWeight:'normal', color:'#000'}})),
  grid: grids,
  xAxis: xAxes,
  yAxis: yAxes,
  series: [
    scatter(0, rankRed, RED, 4.5),
    scatter(0, rankGray, GREY, 4.5),
    scatter(1, scoreRed, RED, 4.5),
    scatter(1, scoreGray, GREY, 4.5),
    scatter(2, floorData, 'rgba(0,0,0,0.5)'),
    scatter(2, idr1Points, LIGHT),
    scatter(3, floorData, 'rgba(0,0,0,0.5)'),
    scatter(3, idr2Points, LIGHT),
    boxes(2, box1),
    boxes(3, box2)
  ]
};
const chart = echarts.init(document.getElementById('c'), null, {renderer:'canvas'});
chart.setOption(option);
</script>
</body></html>
